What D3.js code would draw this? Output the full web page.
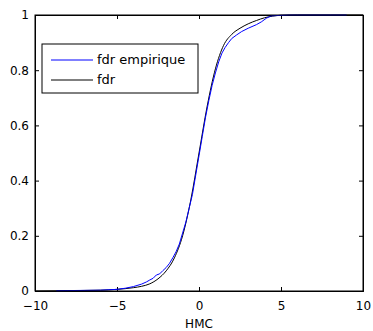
<!DOCTYPE html>
<html>
<head>
<meta charset="utf-8">
<script src="https://cdn.jsdelivr.net/npm/d3@7"></script>
<style>
  body { margin: 0; background: #fff; }
  text { font-family: "DejaVu Sans", sans-serif; font-size: 12px; fill: #000; }
</style>
</head>
<body>
<div id="chart"></div>
<script>
var empX = [-8.7, -6, -5, -4.5, -4, -3.5, -3.2, -3.0, -2.8, -2.6, -2.4, -2.2, -2.0, -1.8, -1.6, -1.4, -1.2, -1.0, -0.8, -0.6, -0.4, -0.2, 0, 0.2, 0.4, 0.6, 0.8, 1.0, 1.2, 1.4, 1.6, 1.8, 2.0, 2.3, 2.6, 3.0, 3.5, 3.8, 4.1, 4.4, 5.5, 9.0];
var empY = [0.001, 0.003, 0.006, 0.01, 0.016, 0.025, 0.033, 0.04, 0.046, 0.058, 0.062, 0.074, 0.085, 0.1, 0.12, 0.142, 0.17, 0.21, 0.25, 0.3, 0.35, 0.42, 0.49, 0.56, 0.63, 0.69, 0.745, 0.79, 0.83, 0.862, 0.883, 0.9, 0.915, 0.928, 0.94, 0.952, 0.965, 0.975, 0.988, 0.997, 1, 1];

// theoretical cdf
var cdfX = [-10, -8, -7, -6, -5, -4, -3.5, -3, -2.5, -2, -1.5, -1, -0.5, 0, 0.5, 1, 1.5, 2, 2.5, 3, 3.5, 4, 4.5, 5, 6, 8, 10];
var cdfY = [0, 0.001, 0.002, 0.003, 0.006, 0.012, 0.017, 0.026, 0.044, 0.073, 0.12, 0.2, 0.33, 0.5, 0.67, 0.805, 0.89, 0.93, 0.952, 0.968, 0.98, 0.99, 0.996, 0.999, 1, 1, 1];

var xTicks = [-10, -5, 0, 5, 10];
var yTicks = [0, 0.2, 0.4, 0.6, 0.8, 1];
var seriesNames = ["fdr empirique", "fdr"];
var seriesColors = ["#0000ff", "#000000"];

var margin = { top: 15, right: 10, bottom: 40, left: 35 };
var width = 373 - margin.left - margin.right,
    height = 331 - margin.top - margin.bottom;

var svg = d3.select("#chart").append("svg")
    .attr("width", 373)
    .attr("height", 331)
    .append("g")
    .attr("transform", "translate(" + margin.left + "," + margin.top + ")");

var x = d3.scaleLinear().domain([-10, 10]).range([0, width]);
var y = d3.scaleLinear().domain([0, 1]).range([height, 0]);

var fmt = function(d) { return d < 0 ? "\u2212" + Math.abs(d) : String(d); };

// axes, ticks pointing inwards like matlab
svg.append("g")
    .attr("transform", "translate(0," + height + ")")
    .call(d3.axisBottom(x).tickValues(xTicks).tickSize(-4).tickPadding(10).tickFormat(fmt));
svg.append("g")
    .call(d3.axisTop(x).tickValues(xTicks).tickSize(-4).tickFormat(""));
svg.append("g")
    .call(d3.axisLeft(y).tickValues(yTicks).tickSize(-4).tickPadding(6).tickFormat(d3.format("")));
svg.append("g")
    .attr("transform", "translate(" + width + ",0)")
    .call(d3.axisRight(y).tickValues(yTicks).tickSize(-4).tickFormat(""));

svg.selectAll(".domain").attr("stroke", "#000");
svg.selectAll(".tick line").attr("stroke", "#000");
svg.selectAll(".tick text")
    .style("font-family", "'DejaVu Sans', sans-serif")
    .style("font-size", "12px")
    .attr("fill", "#000");

var line = d3.line()
    .x(function(d) { return x(d[0]); })
    .y(function(d) { return y(d[1]); });

svg.append("path")
    .datum(cdfX.map(function(v, i) { return [v, cdfY[i]]; }))
    .attr("d", line.curve(d3.curveMonotoneX))
    .attr("fill", "none")
    .attr("stroke", seriesColors[1])
    .attr("stroke-width", 1);

svg.append("path")
    .datum(empX.map(function(v, i) { return [v, empY[i]]; }))
    .attr("d", line.curve(d3.curveLinear))
    .attr("fill", "none")
    .attr("stroke", seriesColors[0])
    .attr("stroke-width", 1);

// frame
svg.append("rect")
    .attr("width", width)
    .attr("height", height)
    .attr("fill", "none")
    .attr("stroke", "#000");

// x label
svg.append("text")
    .attr("x", width / 2)
    .attr("y", height + 37)
    .attr("text-anchor", "middle")
    .text("HMC");

// legend
var legend = svg.append("g").attr("transform", "translate(7,29)");
legend.append("rect")
    .attr("width", 156)
    .attr("height", 49)
    .attr("fill", "#fff")
    .attr("stroke", "#000");
seriesNames.forEach(function(name, i) {
    var ly = 16 + i * 20;
    legend.append("line")
        .attr("x1", 9).attr("x2", 51)
        .attr("y1", ly).attr("y2", ly)
        .attr("stroke", seriesColors[i]);
    legend.append("text")
        .attr("x", 55)
        .attr("y", ly + 4)
        .style("font-size", "13px")
        .text(name);
});
</script>
</body>
</html>
